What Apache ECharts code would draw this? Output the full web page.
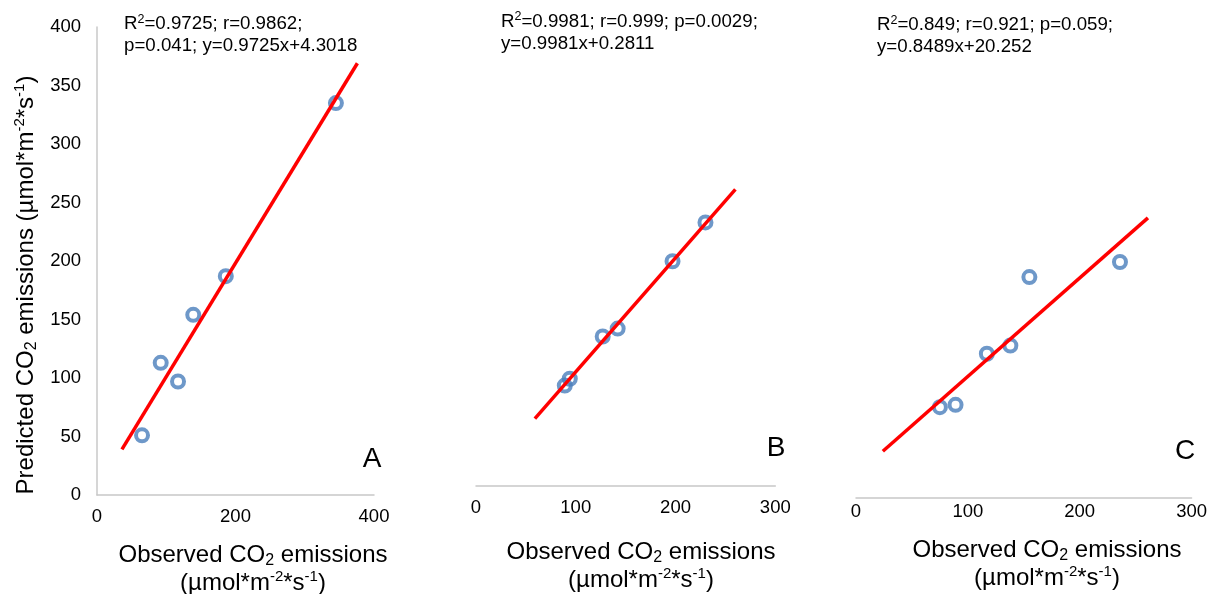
<!DOCTYPE html>
<html>
<head>
<meta charset="utf-8">
<script src="https://cdn.jsdelivr.net/npm/echarts@6/dist/echarts.min.js"></script>
<style>
html, body { margin: 0; padding: 0; background: #fff; }
#chart { width: 1210px; height: 594px; }
</style>
</head>
<body>
<div id="chart"></div>
<script>
// panel A
const obsA = [345, 186, 139, 92, 117, 65];
const predA = [335, 187, 154, 113, 97, 51];
const trendAx = [36, 376];
const trendAy = [39, 369];
// panel B
const obsB = [230, 197, 142, 127, 94, 89];
const predB = [231, 197, 138, 131, 94, 88];
const trendBx = [59, 260];
const trendBy = [59, 260];
// panel C
const obsC = [236, 155, 138, 117, 89, 75];
const predC = [203, 190, 131, 124, 80, 78];
const trendCx = [24, 261];
const trendCy = [40, 241];

// tick labels
const xTicksA = [0, 200, 400];
const yTicksA = [0, 50, 100, 150, 200, 250, 300, 350, 400];
const xTicksBC = [0, 100, 200, 300];

const panelNames = ['A', 'B', 'C'];
const statsA = ['R{sup|2}=0.9725; r=0.9862;', 'p=0.041; y=0.9725x+4.3018'];
const statsB = ['R{sup|2}=0.9981; r=0.999; p=0.0029;', 'y=0.9981x+0.2811'];
const statsC = ['R{sup|2}=0.849; r=0.921; p=0.059;', 'y=0.8489x+20.252'];

const FONT = '"Liberation Sans", Arial, sans-serif';

function pairs(xs, ys) {
    return xs.map((x, i) => [x, ys[i]]);
}

function xAxisOf(idx, ticks, margin) {
    return {
        type: 'value',
        gridIndex: idx,
        min: ticks[0],
        max: ticks[ticks.length - 1],
        interval: ticks[1] - ticks[0],
        axisLine: { show: true, onZero: false, lineStyle: { color: '#c8c8c8', width: 1.5 } },
        axisTick: { show: false },
        splitLine: { show: false },
        axisLabel: { fontSize: 18.5, color: '#000', fontFamily: FONT, margin: margin }
    };
}

function scatterOf(idx, xs, ys) {
    return {
        type: 'scatter',
        xAxisIndex: idx,
        yAxisIndex: idx,
        symbol: 'circle',
        symbolSize: 12,
        itemStyle: { color: 'rgba(0,0,0,0)', borderColor: '#4a7ebb', borderWidth: 4 },
        z: 2,
        data: pairs(xs, ys)
    };
}

function trendOf(idx, xs, ys) {
    return {
        type: 'line',
        xAxisIndex: idx,
        yAxisIndex: idx,
        showSymbol: false,
        lineStyle: { color: '#ff0000', width: 3.5, cap: 'butt' },
        z: 3,
        data: pairs(xs, ys)
    };
}

const supStyle = { fontSize: 12.5, lineHeight: 12, verticalAlign: 'top', fontFamily: FONT, fill: '#000' };

function statsText(x, y, lines) {
    return {
        type: 'text', x: x, y: y, silent: true,
        style: {
            text: lines.join('\n'),
            fontSize: 18.7, fontFamily: FONT, fill: '#000', lineHeight: 22,
            align: 'left', verticalAlign: 'top',
            rich: { sup: supStyle }
        }
    };
}

const titleRich = {
    sub: { fontSize: 16, lineHeight: 16, verticalAlign: 'bottom', fontFamily: FONT, fill: '#000' },
    sup: { fontSize: 15, lineHeight: 15, verticalAlign: 'top', fontFamily: FONT, fill: '#000' }
};

function xTitle(x, y) {
    return {
        type: 'text', x: x, y: y, silent: true,
        style: {
            text: 'Observed CO{sub|2} emissions\n(µmol*m{sup|-2}*s{sup|-1})',
            fontSize: 24, fontFamily: FONT, fill: '#000', lineHeight: 28,
            align: 'center', verticalAlign: 'middle',
            rich: titleRich
        }
    };
}

function letter(x, y, t) {
    return {
        type: 'text', x: x, y: y, silent: true,
        style: { text: t, fontSize: 28, fontFamily: FONT, fill: '#000', align: 'center', verticalAlign: 'middle' }
    };
}

const chart = echarts.init(document.getElementById('chart'));

chart.setOption({
    animation: false,
    backgroundColor: '#fff',
    grid: [
        { left: 97, top: 27, width: 277, height: 468 },
        { left: 476, top: 29.6, width: 299.3, height: 456.4 },
        { left: 856, top: 33.3, width: 337, height: 464.4 }
    ],
    xAxis: [
        xAxisOf(0, xTicksA, 12),
        xAxisOf(1, xTicksBC, 12),
        xAxisOf(2, xTicksBC, 5)
    ],
    yAxis: [
        {
            type: 'value',
            gridIndex: 0,
            min: yTicksA[0],
            max: yTicksA[yTicksA.length - 1],
            interval: yTicksA[1] - yTicksA[0],
            axisLine: { show: true, onZero: false, lineStyle: { color: '#c8c8c8', width: 1.5 } },
            axisTick: { show: false },
            splitLine: { show: false },
            axisLabel: { fontSize: 18.5, color: '#000', fontFamily: FONT, margin: 16 }
        },
        { type: 'value', gridIndex: 1, min: 0, max: 400, show: false },
        { type: 'value', gridIndex: 2, min: 0, max: 400, show: false }
    ],
    series: [
        scatterOf(0, obsA, predA),
        trendOf(0, trendAx, trendAy),
        scatterOf(1, obsB, predB),
        trendOf(1, trendBx, trendBy),
        scatterOf(2, obsC, predC),
        trendOf(2, trendCx, trendCy)
    ],
    graphic: [
        statsText(124, 13, statsA),
        statsText(501, 10.5, statsB),
        statsText(877, 14, statsC),
        letter(372, 459, panelNames[0]),
        letter(776, 448, panelNames[1]),
        letter(1185, 451, panelNames[2]),
        xTitle(253, 569),
        xTitle(641, 566),
        xTitle(1047, 564),
        {
            type: 'text', x: 26, y: 285, rotation: Math.PI / 2, silent: true,
            style: {
                text: 'Predicted CO{sub|2} emissions (µmol*m{sup|-2}*s{sup|-1})',
                fontSize: 24, fontFamily: FONT, fill: '#000', lineHeight: 28,
                align: 'center', verticalAlign: 'middle',
                rich: titleRich
            }
        }
    ]
});
</script>
</body>
</html>
